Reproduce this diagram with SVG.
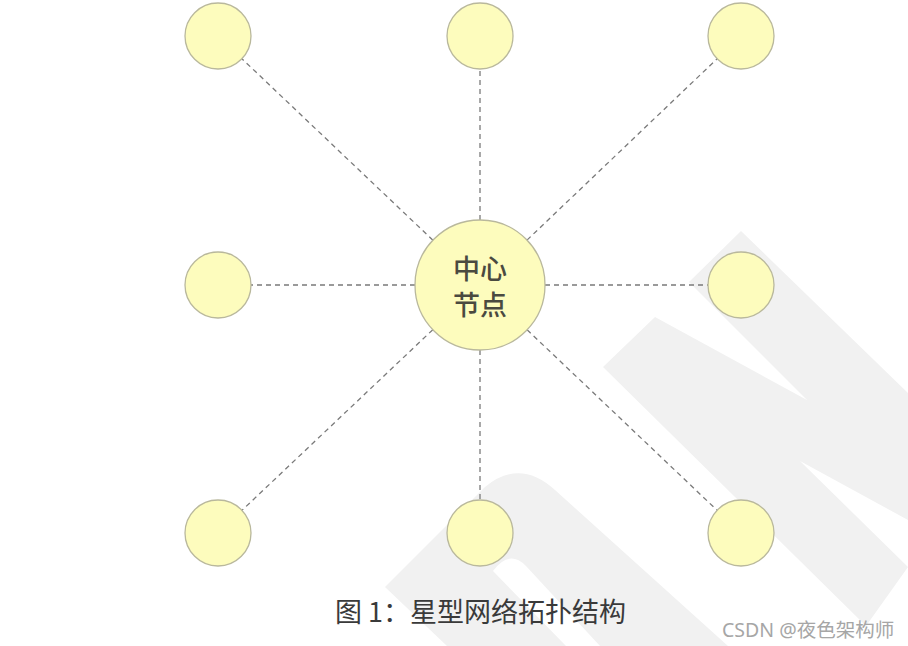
<svg xmlns="http://www.w3.org/2000/svg" width="908" height="646" viewBox="0 0 908 646">
  <style>
    .wm { fill: #f1f1f1; stroke: none; }
    .node { fill: #fdfcbd; stroke: #b9b89c; stroke-width: 1.3; }
    .link { stroke: #7a7a7a; stroke-width: 1.3; stroke-dasharray: 5 4; fill: none; }
    .label { font-family: "Noto Sans CJK SC", "Noto Sans", sans-serif; font-size: 27px; font-weight: 500; fill: #4a4a40; text-anchor: middle; }
    .caption { font-family: "Noto Sans CJK SC", "Noto Sans", sans-serif; font-size: 27px; fill: #3a3a3a; }
    .credit { font-family: "Noto Sans", "Noto Sans CJK SC", sans-serif; font-size: 19.5px; fill: #a6a6a6; }
  </style>
  <rect width="908" height="646" fill="#ffffff"/>
  <g id="watermark">
    <path class="wm" d="M385,587 L485,487 Q520,458 555,490 L728,646 L600,646 L526,566 Q509,549 493,571 L566,646 L447,646 Z"/>
    <path class="wm" d="M603,367 L655,317 L807,400 L689,282 L741,231 L908,393 L908,520 L800,461 L908,567 L866,626 Z"/>
  </g>
  <g id="connectors">
    <line class="link" x1="432.9" y1="240.2" x2="241.9" y2="58.7"/>
    <line class="link" x1="480" y1="220" x2="480" y2="69"/>
    <line class="link" x1="527.0" y1="240.1" x2="717.1" y2="58.8"/>
    <line class="link" x1="415" y1="285" x2="251" y2="285"/>
    <line class="link" x1="545" y1="285" x2="708" y2="285"/>
    <line class="link" x1="432.8" y1="329.7" x2="242.0" y2="510.3"/>
    <line class="link" x1="480" y1="350" x2="480" y2="500"/>
    <line class="link" x1="527.1" y1="329.8" x2="717.1" y2="510.3"/>
  </g>
  <g id="node-top-left"><circle class="node" cx="218" cy="36" r="33"/></g>
  <g id="node-top"><circle class="node" cx="480" cy="36" r="33"/></g>
  <g id="node-top-right"><circle class="node" cx="741" cy="36" r="33"/></g>
  <g id="node-left"><circle class="node" cx="218" cy="285" r="33"/></g>
  <g id="node-right"><circle class="node" cx="741" cy="285" r="33"/></g>
  <g id="node-bottom-left"><circle class="node" cx="218" cy="533" r="33"/></g>
  <g id="node-bottom"><circle class="node" cx="480" cy="533" r="33"/></g>
  <g id="node-bottom-right"><circle class="node" cx="741" cy="533" r="33"/></g>
  <g id="node-center">
    <circle class="node" cx="480" cy="285" r="65"/>
    <text class="label" x="480" y="279">中心</text>
    <text class="label" x="480" y="315">节点</text>
  </g>
  <text class="caption" x="335" y="622">图 1：星型网络拓扑结构</text>
  <text class="credit" x="722" y="637">CSDN @夜色架构师</text>
</svg>
